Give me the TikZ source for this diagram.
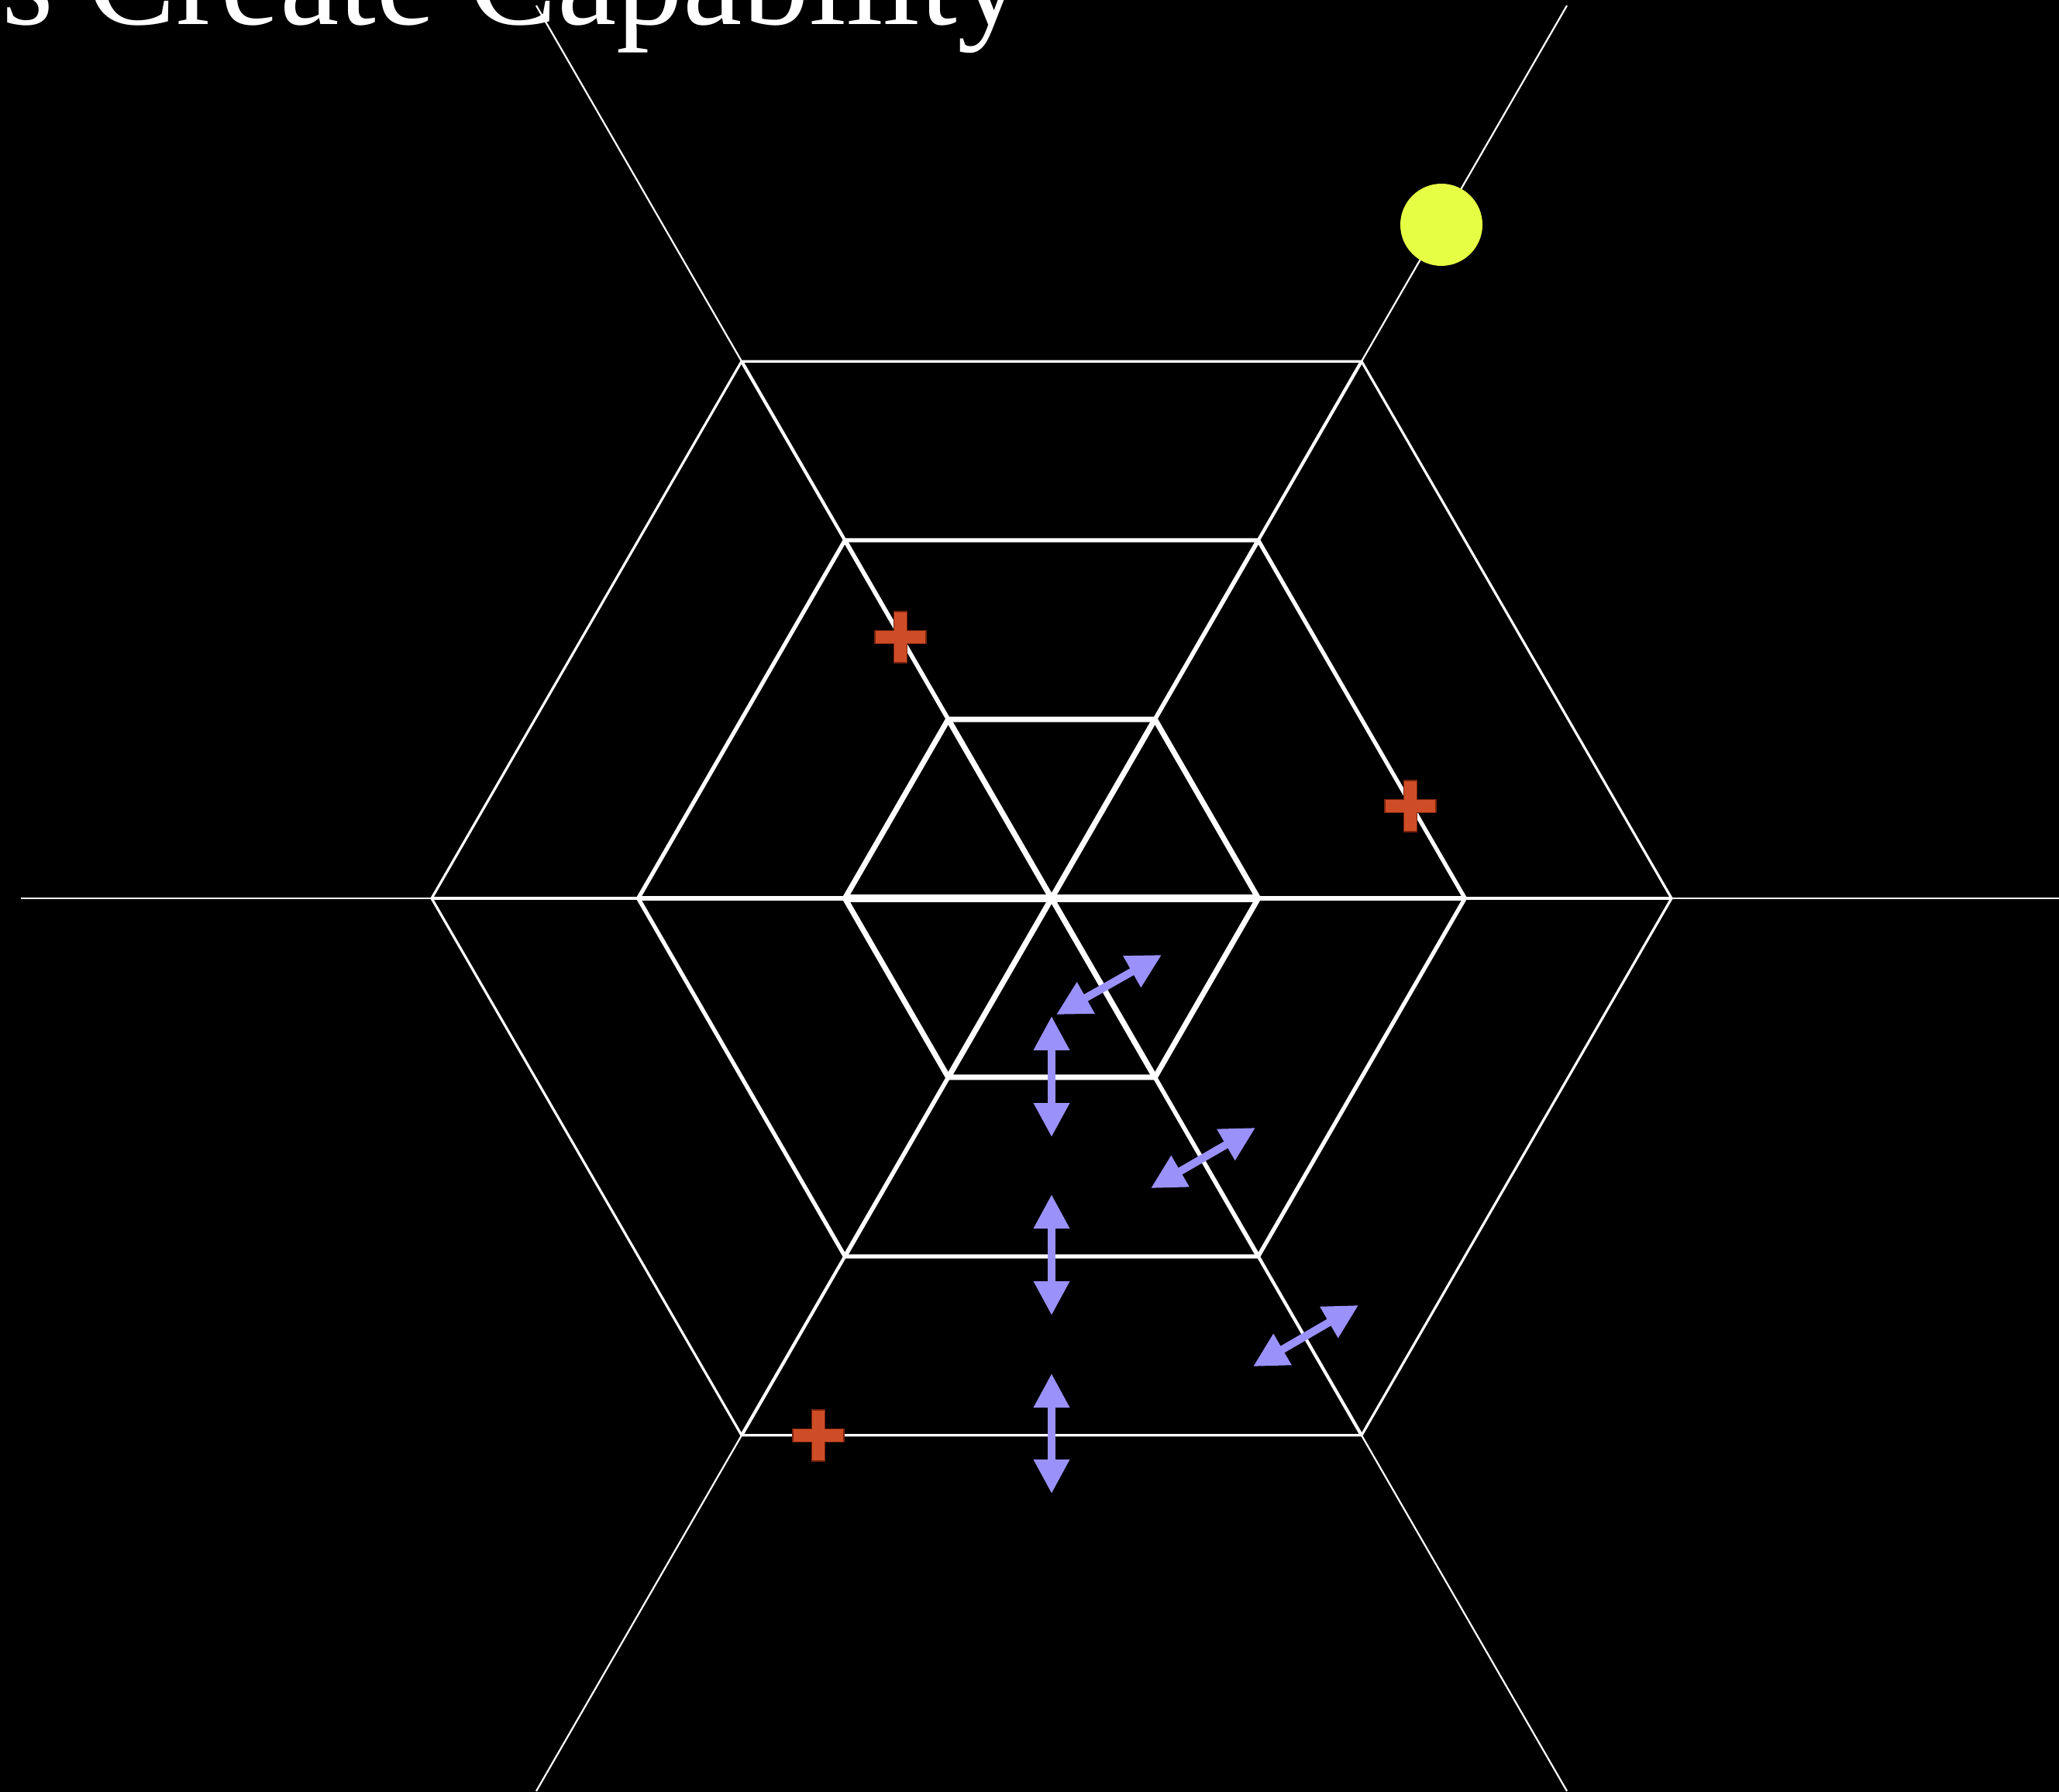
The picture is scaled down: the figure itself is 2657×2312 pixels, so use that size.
\documentclass[tikz,border=0pt]{standalone}
\usepackage{fontspec}
\setmainfont{Liberation Serif}
\usetikzlibrary{arrows.meta}
\definecolor{crossred}{RGB}{206,77,38}
\definecolor{crossedge}{RGB}{120,35,15}
\definecolor{sunyellow}{RGB}{230,255,68}
\definecolor{flowc}{RGB}{154,145,250}
\begin{document}
\begin{tikzpicture}[x=0.25pt,y=-0.25pt,
  spokeout/.style={draw=white,line width=0.55pt},
  spokethree/.style={draw=white,line width=1.05pt},
  ringthree/.style={draw=white,line width=0.8pt},
  spoketwo/.style={draw=white,line width=1.4pt},
  ringtwo/.style={draw=white,line width=1.3pt},
  spokeone/.style={draw=white,line width=1.8pt},
  ringone/.style={draw=white,line width=1.75pt},
  flowarrow/.style={draw=flowc,line width=2.5pt,
    arrows={Triangle[width=11pt,length=11pt]-Triangle[width=11pt,length=11pt]}},
  redcross/.pic={\filldraw[fill=crossred,draw=crossedge,line width=0.3pt]
    (-33,-8.5) -- (-8.5,-8.5) -- (-8.5,-33) -- (8.5,-33) -- (8.5,-8.5) -- (33,-8.5)
    -- (33,8.5) -- (8.5,8.5) -- (8.5,33) -- (-8.5,33) -- (-8.5,8.5) -- (-33,8.5) -- cycle;}
]
\fill[black] (0,0) rectangle (2657,2312);
\useasboundingbox (0,0) rectangle (2657,2312);

\node[anchor=base east,text=white,inner sep=0pt,font=\fontsize{43}{43}\selectfont] (title) at (1322,32) {s Create Capability};

\begin{scope}[shift={(1357,1159)}]
  \coordinate (c) at (0,0);
  \foreach \a in {0,60,...,300} \draw[spokeout] (\a:798) -- (\a:1330);
  \foreach \a in {0,60,...,300} \draw[spokethree] (\a:532) -- (\a:800);
  \draw[ringthree] (0:800) -- (60:800) -- (120:800) -- (180:800) -- (240:800) -- (300:800) -- cycle;
  \foreach \a in {0,60,...,300} \draw[spoketwo] (\a:265) -- (\a:534);
  \draw[ringtwo] (0:533.4) -- (60:533.4) -- (120:533.4) -- (180:533.4) -- (240:533.4) -- (300:533.4) -- cycle;
  \foreach \a in {60,120,240,300} \draw[spokeone] (c) -- (\a:266.7);
  \draw[draw=white,line width=2.3pt] (180:266.7) -- (0:266.7);
  \draw[ringone] (0:266.7) -- (60:266.7) -- (120:266.7) -- (180:266.7) -- (240:266.7) -- (300:266.7) -- cycle;
\end{scope}

\pic at (1162,822) {redcross};
\pic at (1820,1040) {redcross};
\pic at (1056,1852) {redcross};

\fill[sunyellow] (1860,290) circle (53);

\coordinate (va1) at (1357,1311); \coordinate (vb1) at (1357,1467);
\coordinate (va2) at (1357,1541); \coordinate (vb2) at (1357,1697);
\coordinate (va3) at (1357,1772); \coordinate (vb3) at (1357,1927);
\coordinate (da1) at (1363,1309); \coordinate (db1) at (1499,1232);
\coordinate (da2) at (1485,1533); \coordinate (db2) at (1620,1455);
\coordinate (da3) at (1617,1763); \coordinate (db3) at (1753,1684);
\draw[flowarrow] (va1) -- (vb1);
\draw[flowarrow] (va2) -- (vb2);
\draw[flowarrow] (va3) -- (vb3);
\draw[flowarrow] (da1) -- (db1);
\draw[flowarrow] (da2) -- (db2);
\draw[flowarrow] (da3) -- (db3);
\end{tikzpicture}
\end{document}
